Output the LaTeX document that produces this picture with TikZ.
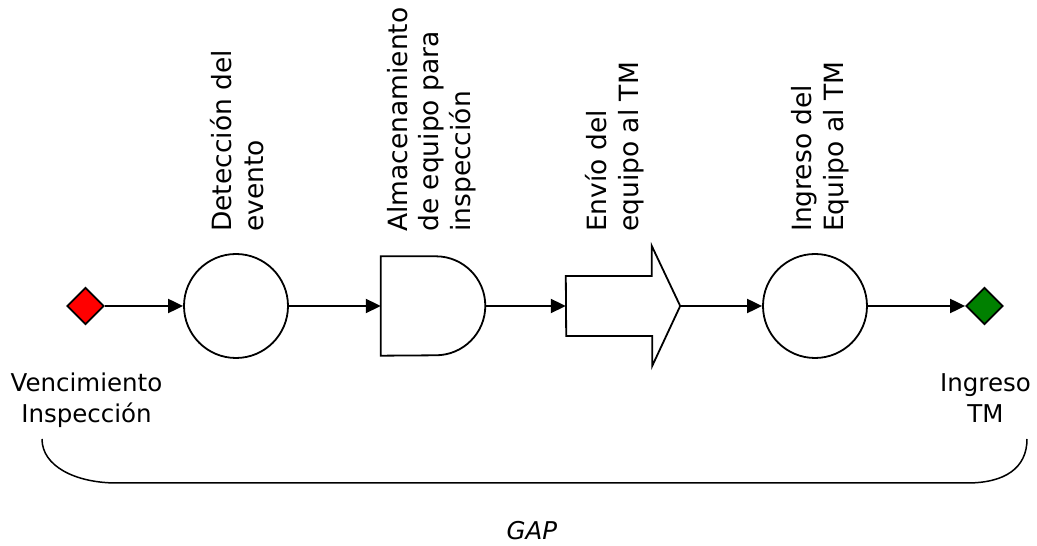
\documentclass[tikz,border=0pt]{standalone}
\usepackage{fontspec}
\setmainfont{DejaVu Sans}
\usetikzlibrary{arrows.meta,shapes.geometric}

\tikzset{
  conector/.style={line width=2pt,-{Triangle[length=15pt,width=14pt]}},
  hito/.style={diamond,draw,line width=1.8pt,inner sep=0pt,minimum size=37pt},
  etapa/.style={circle,draw,line width=1.8pt,inner sep=0pt,minimum size=104pt},
  vertical/.style={rotate=90,anchor=base west,align=left,inner sep=0pt,
    font=\fontsize{26.5}{31.5}\selectfont},
  extremo/.style={anchor=base,align=center,inner sep=0pt,
    font=\fontsize{24.5}{31}\selectfont}
}

\begin{document}
\begin{tikzpicture}[x=1pt,y=1pt]
	\useasboundingbox (0,0) rectangle (1037,546);
	% linea de tiempo
	\node[hito,fill=red] (venc) at (85.5,240) {};
	\node[etapa] (deteccion) at (236,240) {};
	\node[minimum width=104pt,minimum height=99pt,inner sep=0pt] (almac) at (433,240) {};
	\draw[line width=1.8pt] (almac.south west) -- (almac.north west) -- ++(55,0)
		arc[start angle=90,end angle=-90,radius=49.5] -- cycle;
	\node[minimum width=114pt,minimum height=120pt,inner sep=0pt] (envio) at (623,240) {};
	\draw[line width=1.8pt] (envio.west) ++(0,30) -- ++(86,0) -- ++(0,30) -- (envio.east)
		-- ++(-28,-60) -- ++(0,30) -- ++(-86,0) -- cycle;
	\node[etapa] (ingreso) at (815,240) {};
	\node[hito,fill=green!50!black] (tm) at (984.5,240) {};
	\draw[conector] (venc) -- (deteccion);
	\draw[conector] (deteccion) -- (almac.west);
	\draw[conector] (almac.east) -- (envio.west);
	\draw[conector] (envio.east) -- (ingreso);
	\draw[conector] (ingreso) -- (tm);
	% textos (base = ultima linea)
	\node[vertical] at (263,314) {Detección del\\evento};
	\node[vertical] at (470,314) {Almacenamiento\\de equipo para\\inspección};
	\node[vertical] at (638,314) {Envío del\\equipo al TM};
	\node[vertical] at (843,314) {Ingreso del\\Equipo al TM};
	\node[extremo] (txtvenc) at (86.5,123) {Vencimiento\\Inspección};
	\node[extremo] (txttm) at (985.5,123) {Ingreso\\TM};
	% llave
	\draw[line width=1.5pt] (42,107) .. controls (42,80) and (75,63) .. (117,63)
		-- (967,63) .. controls (1005,63) and (1027,78) .. (1027,107);
	\node[anchor=base,inner sep=0pt,font=\fontsize{24.5}{31}\selectfont\itshape] (gap) at (532,6) {GAP};
\end{tikzpicture}
\end{document}
